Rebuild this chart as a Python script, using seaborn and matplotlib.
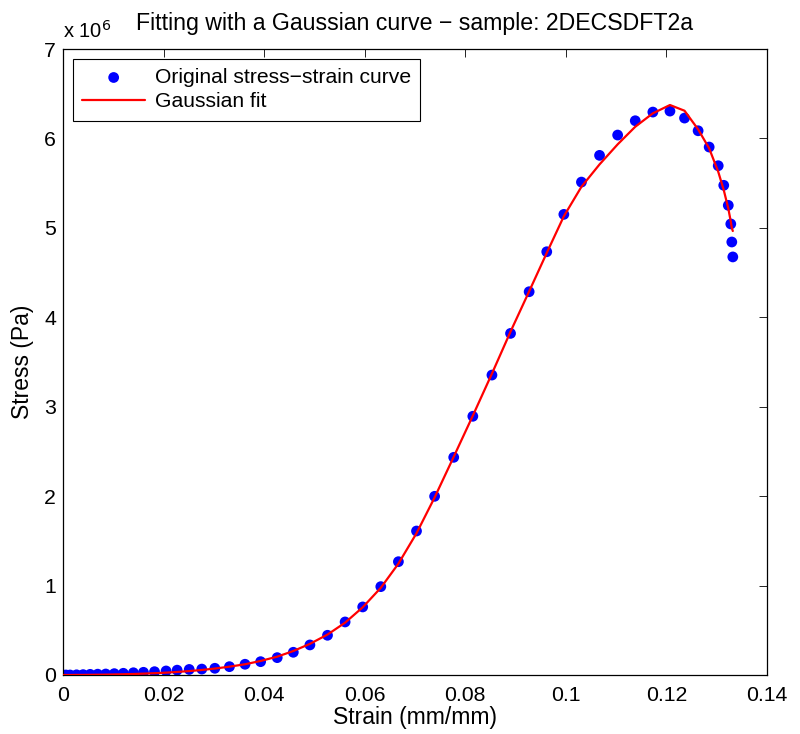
import numpy as np
import pandas as pd
import seaborn as sns
import matplotlib.pyplot as plt
from matplotlib.ticker import FuncFormatter

# strain (mm/mm) of each measured point
strain = [0.0000, 0.0006, 0.0014, 0.0027, 0.0040, 0.0054, 0.0069, 0.0085,
          0.0102, 0.0120, 0.0140, 0.0160, 0.0182, 0.0205, 0.0227, 0.0251,
          0.0276, 0.0302, 0.0331, 0.0362, 0.0393, 0.0426, 0.0458, 0.0491,
          0.0526, 0.0561, 0.0596, 0.0632, 0.0667, 0.0703, 0.0739, 0.0777,
          0.0815, 0.0853, 0.0890, 0.0927, 0.0962, 0.0996, 0.1031, 0.1067,
          0.1103, 0.1138, 0.1173, 0.1207, 0.1236, 0.1263, 0.1285, 0.1303,
          0.1314, 0.1323, 0.1328, 0.1330, 0.1332]

# measured stress, in units of 1e6 Pa
stress = [0.000, 0.000, 0.000, 0.002, 0.004, 0.007, 0.009, 0.011,
          0.015, 0.019, 0.025, 0.030, 0.037, 0.045, 0.054, 0.062,
          0.066, 0.075, 0.093, 0.120, 0.149, 0.194, 0.254, 0.336,
          0.444, 0.593, 0.761, 0.988, 1.267, 1.610, 1.998, 2.434,
          2.893, 3.354, 3.820, 4.286, 4.733, 5.151, 5.512, 5.811,
          6.038, 6.198, 6.295, 6.306, 6.228, 6.086, 5.904, 5.695,
          5.476, 5.252, 5.044, 4.842, 4.675]

# gaussian fit evaluated at the same strains, in units of 1e6 Pa
fit = [0.000, 0.000, 0.000, 0.001, 0.001, 0.002, 0.003, 0.004,
       0.006, 0.008, 0.011, 0.015, 0.020, 0.026, 0.034, 0.044,
       0.056, 0.072, 0.093, 0.120, 0.157, 0.205, 0.268, 0.348,
       0.452, 0.585, 0.757, 0.975, 1.245, 1.585, 1.985, 2.440,
       2.900, 3.370, 3.840, 4.290, 4.720, 5.130, 5.460, 5.710,
       5.934, 6.131, 6.281, 6.374, 6.310, 6.102, 5.889, 5.628,
       5.423, 5.218, 5.070, 5.000, 4.965]

x_ticks = [0, 0.02, 0.04, 0.06, 0.08, 0.1, 0.12, 0.14]
y_ticks = [0, 1, 2, 3, 4, 5, 6, 7]

df = pd.DataFrame({'strain': strain, 'stress': stress, 'fit': fit})

sns.set_style('white')
plt.rcParams['font.family'] = ['Liberation Sans', 'DejaVu Sans']
plt.rcParams['xtick.direction'] = 'in'
plt.rcParams['ytick.direction'] = 'in'
plt.rcParams['text.color'] = 'black'
plt.rcParams['axes.labelcolor'] = 'black'
plt.rcParams['xtick.color'] = 'black'
plt.rcParams['ytick.color'] = 'black'

fig = plt.figure(figsize=(8, 7.34), dpi=100)
ax = fig.add_axes([0.07875, 0.0804, 0.88, 0.8528])

sns.scatterplot(x='strain', y='stress', data=df, ax=ax, color='#0000ff',
                s=60, edgecolor='none', label='Original stress\u2212strain curve', zorder=2)
sns.lineplot(x='strain', y='fit', data=df, ax=ax, color='#ff0000', lw=1.6,
             sort=False, estimator=None, label='Gaussian fit', zorder=3)

ax.set_xlim(0, 0.14)
ax.set_ylim(0, 7)
ax.set_xticks(x_ticks)
ax.set_yticks(y_ticks)
ax.xaxis.set_major_formatter(FuncFormatter(lambda v, p: f'{v:g}'))
ax.tick_params(labelsize=15.3, length=6, width=0.6, top=True, right=True)
ax.tick_params(axis='x', pad=8)
ax.tick_params(axis='y', pad=5)
for sp in ax.spines.values():
    sp.set_linewidth(0.9)
    sp.set_color('black')

ax.set_xlabel('Strain (mm/mm)', fontsize=16.5, labelpad=1)
ax.set_ylabel('Stress (Pa)', fontsize=16.5, labelpad=7)
ax.set_title('Fitting with a Gaussian curve \u2212 sample: 2DECSDFT2a', fontsize=16.7, pad=14)
ax.text(0.0, 1.012, 'x 10$^{6}$', transform=ax.transAxes, fontsize=14.5, ha='left', va='bottom')

leg = ax.legend(loc='upper left', fontsize=15.2, frameon=True, fancybox=False,
                framealpha=1, edgecolor='black', borderpad=0.45, handlelength=3.0,
                handletextpad=0.45, labelspacing=0.25, borderaxespad=0.45)
leg.get_frame().set_linewidth(0.8)

plt.savefig('out.png', dpi=100)
